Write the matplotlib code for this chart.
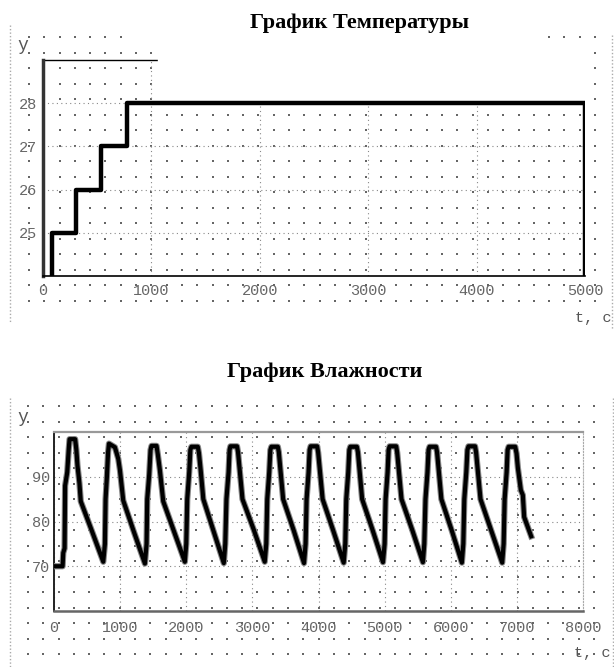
import matplotlib
matplotlib.use("Agg")
import matplotlib.pyplot as plt
import matplotlib.patheffects as pe
import numpy as np
from matplotlib.patches import Rectangle

# temperature chart: step times (s) and levels
temp_t = [80, 80, 305, 535, 772, 5000]
temp_v = [24, 25, 26, 27, 28, 24]
temp_xticks = [0, 1000, 2000, 3000, 4000, 5000]
temp_yticks = [25, 26, 27, 28]

# humidity chart: points
hum_t = [0, 130, 140, 160, 168, 200, 222, 235, 320, 338, 355, 385, 405, 575, 745,
         770, 780, 800, 818, 831, 921, 972, 997, 1047, 1210, 1375,
         1400, 1410, 1440, 1460, 1475, 1551, 1570, 1601, 1652, 1815, 1979,
         2000, 2015, 2045, 2062, 2078, 2175, 2192, 2218, 2258, 2410, 2568,
         2590, 2608, 2640, 2655, 2668, 2768, 2783, 2808, 2850, 3020, 3187,
         3210, 3225, 3255, 3272, 3287, 3385, 3400, 3425, 3465, 3625, 3781,
         3805, 3820, 3850, 3866, 3881, 3980, 3995, 4020, 4062, 4222, 4381,
         4405, 4420, 4450, 4466, 4481, 4580, 4596, 4620, 4660, 4820, 4975,
         5000, 5015, 5045, 5060, 5075, 5175, 5190, 5215, 5255, 5420, 5579,
         5600, 5618, 5648, 5664, 5679, 5778, 5793, 5818, 5858, 6015, 6168,
         6190, 6205, 6235, 6252, 6268, 6368, 6383, 6408, 6450, 6612, 6778,
         6800, 6815, 6845, 6860, 6875, 6975, 6995, 7015, 7060, 7090, 7110, 7216]
hum_v = [70, 70, 73, 74, 88, 91, 96, 98.4, 98.4, 96, 92.5, 88.5, 84.5, 77.8, 71.0,
         75, 85, 90, 95.5, 97.4, 96.6, 94, 91.5, 84.7, 77.6, 70.6,
         75, 85, 90.5, 96, 96.9, 96.9, 95, 91.5, 84.5, 77.8, 71.0,
         75, 85, 91, 96, 96.7, 96.7, 95.3, 91.5, 85, 78, 70.7,
         75, 85, 91, 96, 96.8, 96.8, 95.5, 91.5, 85, 78.2, 71.0,
         75, 85, 91, 96, 96.7, 96.7, 95.5, 91.5, 85, 78, 70.7,
         75, 85, 91, 96, 96.8, 96.8, 95.4, 91.5, 85, 78, 70.8,
         75, 85, 91, 96, 96.7, 96.7, 95.5, 91.5, 85, 78, 70.9,
         75, 85, 91, 96, 96.8, 96.8, 95.4, 91.5, 85, 78, 70.9,
         75, 85, 91, 96, 96.7, 96.7, 95.5, 91.5, 85, 78, 70.8,
         75, 85, 91, 96, 96.8, 96.8, 95.5, 91.5, 85, 78, 70.8,
         75, 85, 91, 96, 96.7, 96.7, 95.2, 92, 87, 85.9, 81, 76.7]
hum_xticks = [0, 1000, 2000, 3000, 4000, 5000, 6000, 7000, 8000]
hum_yticks = [70, 80, 90]

W, H = 614, 667
plt.rcParams["font.family"] = ["Liberation Mono", "DejaVu Sans Mono"]
fig = plt.figure(figsize=(W / 100, H / 100), dpi=100)


def fx(px):
    return px / W


def fy(py):
    return 1 - py / H


# worksheet dot grid behind both charts
bg = fig.add_axes([0, 0, 1, 1], zorder=0)
bg.set_xlim(0, W)
bg.set_ylim(H, 0)
bg.axis("off")
for x0, x1, y0, y1 in [(29, 598, 37, 316), (28, 598, 406, 668)]:
    gx, gy = np.meshgrid(np.arange(x0, x1, 15.3), np.arange(y0, y1, 15.5))
    bg.scatter(gx.ravel(), gy.ravel(), s=0.8, c="#666", marker="s", linewidths=0)
for x, y0, y1 in [(10, 25, 322), (612, 35, 330), (9.5, 398, 667), (613, 398, 667)]:
    bg.plot([x, x], [y0, y1], color="#aaa", lw=1.0, ls=(0, (1, 1.5)))
bg.add_patch(Rectangle((125, 0), 420, 44, color="white", zorder=3))

tick_kw = dict(length=0, labelsize=11, labelcolor="#666")

# --- temperature ---
ax1 = fig.add_axes([fx(43), fy(276), fx(585) - fx(43), fy(60) - fy(276)], zorder=1)
ax1.set_facecolor("none")
ax1.step(temp_t, temp_v, where="post", color="black", lw=3.2, zorder=5)
ax1.set_xlim(0, 5000)
ax1.set_ylim(24, 29)
ax1.set_xticks(temp_xticks)
ax1.set_yticks(temp_yticks)
ax1.set_axisbelow(True)
ax1.grid(True, color="#888", lw=0.8, ls=(0, (1, 3)))
ax1.tick_params(axis="x", pad=6, **tick_kw)
ax1.tick_params(axis="y", pad=4, **tick_kw)
ax1.spines["top"].set_visible(False)
ax1.spines["right"].set_visible(False)
ax1.spines["left"].set_linewidth(2.5)
ax1.spines["left"].set_color("#333")
ax1.spines["bottom"].set_linewidth(1.2)
ax1.axhline(29, xmin=0, xmax=0.212, color="black", lw=1, clip_on=False)
# blank patch over the upper right part of the plot
ax1.add_patch(Rectangle((1061, 28.06), 3985, 1.36, color="white", zorder=3, clip_on=False))

fig.text(fx(360), fy(28), "График Температуры", ha="center", va="baseline",
         family="Liberation Serif", weight="bold", fontsize=16)
fig.text(fx(23), fy(46), "y", ha="center", va="center", fontsize=13, color="#555")
fig.text(fx(593), fy(318), "t, c", ha="center", va="center", fontsize=11, color="#555")

# --- humidity ---
ax2 = fig.add_axes([fx(54), fy(611), fx(583) - fx(54), fy(432) - fy(611)], zorder=1)
ax2.set_facecolor("none")
ax2.plot(hum_t, hum_v, color="black", lw=3, zorder=5,
         path_effects=[pe.Stroke(linewidth=4.5, foreground="#888"), pe.Normal()])
ax2.set_xlim(0, 8000)
ax2.set_ylim(60, 100)
ax2.set_xticks(hum_xticks)
ax2.set_yticks(hum_yticks)
ax2.set_axisbelow(True)
ax2.grid(True, color="#888", lw=0.8, ls=(0, (1, 3)))
ax2.tick_params(axis="x", pad=7, **tick_kw)
ax2.tick_params(axis="y", pad=3, **tick_kw)
ax2.spines["top"].set_color("#999")
ax2.spines["top"].set_linewidth(1.6)
ax2.spines["bottom"].set_color("#666")
ax2.spines["bottom"].set_linewidth(1.8)
ax2.spines["left"].set_color("#222")
ax2.spines["left"].set_linewidth(1.4)
ax2.spines["right"].set_color("#aaa")
ax2.spines["right"].set_linewidth(0.8)
ax2.spines["right"].set_linestyle(":")

fig.text(fx(325), fy(377), "График Влажности", ha="center", va="baseline",
         family="Liberation Serif", weight="bold", fontsize=16)
fig.text(fx(23), fy(417), "y", ha="center", va="center", fontsize=13, color="#555")
fig.text(fx(592), fy(653), "t, c", ha="center", va="center", fontsize=11, color="#555")

fig.savefig("out.png", dpi=100)
